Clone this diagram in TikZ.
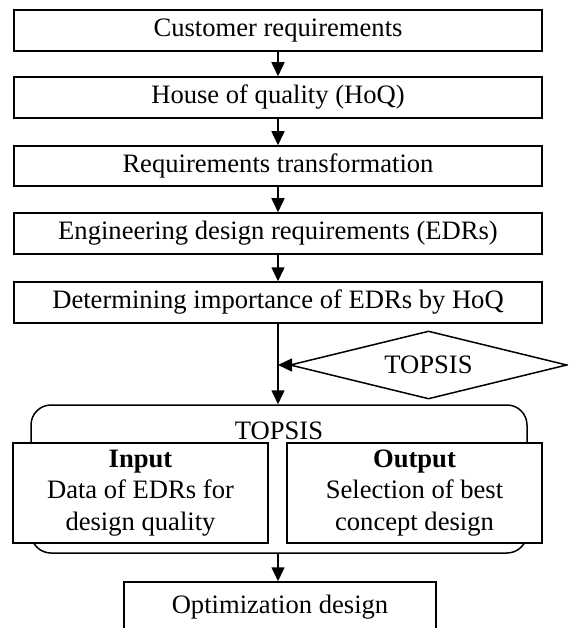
\documentclass[tikz,border=0pt]{standalone}
\usepackage{fontspec}
\setmainfont{Liberation Serif}
\usetikzlibrary{shapes.geometric,arrows.meta}
\begin{document}
\begin{tikzpicture}[x=1pt,y=-1pt,
  every node/.style={font=\fontsize{26.6}{31.5}\selectfont},
  flowbox/.style={draw,line width=1.5pt,fill=white,inner sep=0pt,minimum width=528pt,minimum height=41pt},
  halfbox/.style={draw,line width=1.5pt,fill=white,inner sep=0pt,minimum width=255pt,minimum height=100pt,align=center},
  link/.style={line width=1.5pt,-{Triangle[width=13pt,length=14pt]}}]
\useasboundingbox (0,0) rectangle (568,628);
\clip (0,0) rectangle (568,628);

% main chain
\node[flowbox] (cust) at (278,30.5) {Customer requirements};
\node[flowbox] (hoq) at (278,97.5) {House of quality (HoQ)};
\node[flowbox,minimum height=40pt] (trans) at (278,166) {Requirements transformation};
\node[flowbox] (edr) at (278,233.5) {Engineering design requirements (EDRs)};
\node[flowbox] (imp) at (278,302.5) {Determining importance of EDRs by HoQ};

% method selection
\node[draw,diamond,line width=1.5pt,inner sep=0pt,aspect=4,
      minimum width=277pt,minimum height=68pt] (dia) at (428.5,365) {TOPSIS};
\coordinate (join) at (278,365);

% TOPSIS container
\node[draw,line width=1.5pt,rounded corners=20pt,minimum width=496pt,minimum height=148pt]
  (tops) at (279,479) {};
\node (topslbl) at (279,431) {TOPSIS};
\node[halfbox] (in) at (140.5,493) {\textbf{Input}\\Data of EDRs for\\design quality};
\node[halfbox] (out) at (414.5,493) {\textbf{Output}\\Selection of best\\concept design};

% final step (runs past the lower edge)
\node[draw,line width=1.5pt,inner sep=0pt,minimum width=312pt,minimum height=50pt]
  (opt) at (280,607) {Optimization design};

% connectors
\draw[link] (cust) -- (hoq);
\draw[link] (hoq) -- (trans);
\draw[link] (trans) -- (edr);
\draw[link] (edr) -- (imp);
\draw[link] (imp.south) -- (imp.south |- tops.north);
\draw[link] (dia.west) -- (join);
\draw[link] (imp.south |- tops.south) -- (imp.south |- opt.north);
\end{tikzpicture}
\end{document}
